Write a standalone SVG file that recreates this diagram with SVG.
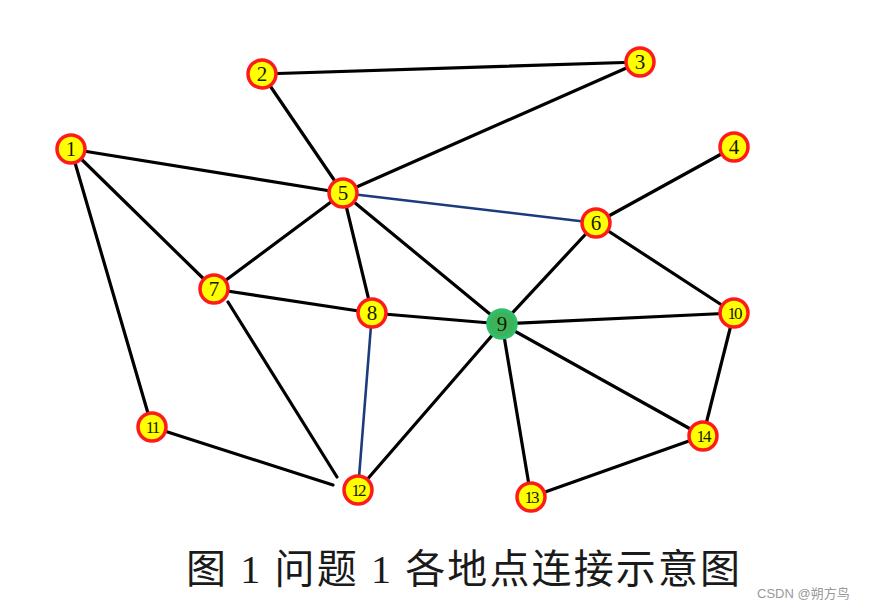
<svg xmlns="http://www.w3.org/2000/svg" width="870" height="611" viewBox="0 0 870 611">
<style>
.e{stroke:#000;stroke-width:3.2;stroke-linecap:round}
.b{stroke:#1c3a7e;stroke-width:2.6;stroke-linecap:round}
.n circle{fill:#ffff00;stroke:#ff1a1a;stroke-width:3.5}
.g circle{fill:#3cb35a;stroke:#2fbf6a;stroke-width:3.5}
text.l{font-family:"Liberation Serif",serif;font-size:21px;fill:#1a1a00;text-anchor:middle}
text.s{font-size:17px;letter-spacing:-2px}
.cap{font-family:"Liberation Serif","Noto Sans CJK SC",serif;font-size:40px;fill:#1a1a1a}
.wm{font-family:"Liberation Sans","Noto Sans CJK SC",sans-serif;font-size:13px;fill:#999}
</style>
<g id="edges">
<line class="e" x1="262" y1="74" x2="640" y2="62"/>
<line class="e" x1="262" y1="74" x2="343" y2="193"/>
<line class="e" x1="71" y1="149" x2="343" y2="193"/>
<line class="e" x1="71" y1="149" x2="214" y2="289"/>
<line class="e" x1="71" y1="149" x2="152" y2="427"/>
<line class="e" x1="343" y1="193" x2="640" y2="62"/>
<line class="b" x1="343" y1="193" x2="596" y2="223"/>
<line class="e" x1="343" y1="193" x2="214" y2="289"/>
<line class="e" x1="343" y1="193" x2="372" y2="313"/>
<line class="e" x1="343" y1="193" x2="502" y2="324"/>
<line class="e" x1="734" y1="147" x2="596" y2="223"/>
<line class="e" x1="596" y1="223" x2="502" y2="324"/>
<line class="e" x1="596" y1="223" x2="734" y2="313"/>
<line class="e" x1="214" y1="289" x2="372" y2="313"/>
<line class="e" x1="228" y1="302" x2="337" y2="477"/>
<line class="e" x1="152" y1="427" x2="333" y2="485"/>
<line class="b" x1="372" y1="313" x2="358" y2="490"/>
<line class="e" x1="372" y1="313" x2="502" y2="324"/>
<line class="e" x1="502" y1="324" x2="734" y2="313"/>
<line class="e" x1="502" y1="324" x2="358" y2="490"/>
<line class="e" x1="502" y1="324" x2="531" y2="497"/>
<line class="e" x1="502" y1="324" x2="703" y2="436"/>
<line class="e" x1="734" y1="313" x2="703" y2="436"/>
<line class="e" x1="531" y1="497" x2="703" y2="436"/>
</g>
<g id="n1" class="n"><circle cx="71" cy="149" r="14"/><text class="l" x="71" y="156">1</text></g>
<g id="n2" class="n"><circle cx="262" cy="74" r="14"/><text class="l" x="262" y="81">2</text></g>
<g id="n3" class="n"><circle cx="640" cy="62" r="14"/><text class="l" x="640" y="69">3</text></g>
<g id="n4" class="n"><circle cx="734" cy="147" r="14"/><text class="l" x="734" y="154">4</text></g>
<g id="n5" class="n"><circle cx="343" cy="193" r="14"/><text class="l" x="343" y="200">5</text></g>
<g id="n6" class="n"><circle cx="596" cy="223" r="14"/><text class="l" x="596" y="230">6</text></g>
<g id="n7" class="n"><circle cx="214" cy="289" r="14"/><text class="l" x="214" y="296">7</text></g>
<g id="n8" class="n"><circle cx="372" cy="313" r="14"/><text class="l" x="372" y="320">8</text></g>
<g id="n9" class="g"><circle cx="502" cy="324" r="14"/><text class="l" x="502" y="331">9</text></g>
<g id="n10" class="n"><circle cx="734" cy="313" r="14"/><text class="l s" x="734" y="319">10</text></g>
<g id="n11" class="n"><circle cx="152" cy="427" r="14"/><text class="l s" x="152" y="433">11</text></g>
<g id="n12" class="n"><circle cx="358" cy="490" r="14"/><text class="l s" x="358" y="496">12</text></g>
<g id="n13" class="n"><circle cx="531" cy="497" r="14"/><text class="l s" x="531" y="503">13</text></g>
<g id="n14" class="n"><circle cx="703" cy="436" r="14"/><text class="l s" x="703" y="442">14</text></g>
<text class="cap" x="186" y="583" textLength="554" lengthAdjust="spacing">图 1 问题 1 各地点连接示意图</text>
<text class="wm" x="757" y="598">CSDN @朔方鸟</text>
</svg>
